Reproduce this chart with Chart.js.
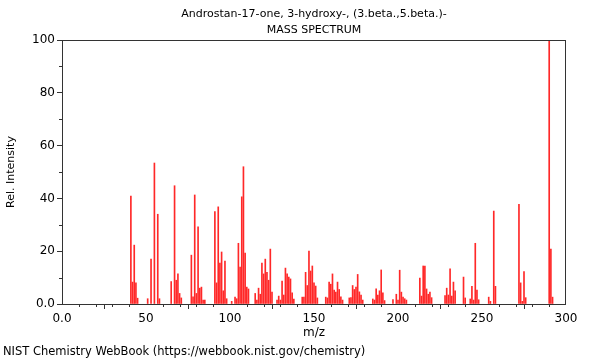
<!DOCTYPE html>
<html>
<head>
<meta charset="utf-8">
<script src="https://cdn.jsdelivr.net/npm/chart.js@4/dist/chart.umd.min.js"></script>
<style>
html,body{margin:0;padding:0;background:#fff;}
#wrap{width:600px;height:360px;position:relative;}
</style>
</head>
<body>
<div id="wrap"><canvas id="c" width="600" height="360"></canvas></div>
<script>
const titleLines = ["Androstan-17-one, 3-hydroxy-, (3.beta.,5.beta.)-", "MASS SPECTRUM"];
const xAxisTitle = "m/z";
const yAxisTitle = "Rel. Intensity";
const footer = "NIST Chemistry WebBook (https://webbook.nist.gov/chemistry)";
const xTickValues = [0, 50, 100, 150, 200, 250, 300];
const yTickValues = [0, 20, 40, 60, 80, 100];

const mz = [41,42,43,44,45,51,53,55,57,58,65,67,68,69,70,71,77,78,79,80,81,82,83,84,85,
  91,92,93,94,95,96,97,98,101,103,104,105,106,107,108,109,110,111,115,116,117,118,119,120,121,122,123,124,125,
  128,129,130,131,132,133,134,135,136,137,138,143,144,145,146,147,148,149,150,151,152,
  157,158,159,160,161,162,163,164,165,166,167,171,172,173,174,175,176,177,178,179,
  185,186,187,188,189,190,191,192,197,199,200,201,202,203,204,205,
  213,214,215,216,217,218,219,220,228,229,230,231,232,233,234,239,240,243,244,245,246,247,248,
  254,255,257,258,272,273,274,275,276,290,291,292];
const intensity = [40.9,8.3,22.3,8,2.2,2,17,53.4,34,2,8.5,44.8,9,11.4,4,2.3,18.5,2.7,41.3,4,29.2,6,6.4,1.5,1.5,
  35,8,36.8,15.5,19.7,5,16.3,2,1,2.6,2,23,14,40.6,52,19.3,6.4,5.7,4,1.5,6,3.7,15.5,11.4,17,12,9,20.8,4.5,
  1.5,3,1.5,8.7,3.4,13.6,11.4,10.2,9.5,4.2,1.9,2.6,2.6,12,7,20,12.5,14.4,8,6.8,2.3,
  2.6,2.3,8.3,7.5,11.4,5.3,4.5,8.3,5.5,2.7,1.5,2.3,2.4,7,5.5,6.4,11.2,4.6,3.4,1.5,
  1.9,1.5,5.7,3.4,5,12.9,4.2,1.3,1.7,3.7,1.5,12.8,4.5,2.6,2,1.5,
  9.8,3,14.4,14.4,5.7,3.7,4.5,2.4,3.2,6,3.4,13.3,3,8.3,5,10.2,2.3,1.9,6.7,1.5,23,5.3,1.6,
  2.6,1,35.2,6.7,37.8,8,1,12.3,2.4,100,20.8,2.6];

const points = mz.map((m, i) => ({x: m, y: intensity[i]}));
const FONT = "'DejaVu Sans', sans-serif";

const decor = {
  id: 'decor',
  afterDraw(chart) {
    const ctx = chart.ctx;
    const a = chart.chartArea;
    const xs = chart.scales.x, ys = chart.scales.y;
    ctx.save();
    ctx.strokeStyle = '#333';
    ctx.lineWidth = 1;
    ctx.strokeRect(Math.round(a.left) + 0.5, Math.round(a.top) + 0.5, Math.round(a.right - a.left) - 1, Math.round(a.bottom - a.top));
    // minor ticks
    ctx.beginPath();
    for (let v = 10; v < 300; v += 10) {
      if (v % 50 === 0) continue;
      const px = Math.round(xs.getPixelForValue(v)) + 0.5;
      ctx.moveTo(px, a.bottom);
      ctx.lineTo(px, a.bottom + 3);
    }
    for (let v = 10; v < 100; v += 20) {
      const py = Math.round(ys.getPixelForValue(v)) + 0.5;
      ctx.moveTo(a.left, py);
      ctx.lineTo(a.left - 3, py);
    }
    ctx.stroke();
    // texts
    ctx.fillStyle = '#000';
    ctx.textAlign = 'center';
    ctx.textBaseline = 'middle';
    ctx.font = "11px " + FONT;
    const cx = (a.left + a.right) / 2;
    ctx.fillText(titleLines[0], cx, 14);
    ctx.fillText(titleLines[1], cx, 30);
    ctx.font = "12px " + FONT;
    ctx.fillText(xAxisTitle, cx, 333);
    ctx.save();
    ctx.translate(11, (a.top + a.bottom) / 2);
    ctx.rotate(-Math.PI / 2);
    ctx.font = "11px " + FONT;
    ctx.fillText(yAxisTitle, 0, 0);
    ctx.restore();
    ctx.textAlign = 'left';
    ctx.font = "11.5px " + FONT;
    ctx.fillText(footer, 3, 352);
    ctx.restore();
  }
};

new Chart(document.getElementById('c'), {
  type: 'bar',
  data: {
    datasets: [{
      data: points,
      backgroundColor: 'rgb(255,40,40)',
      borderWidth: 0,
      barThickness: 1,
      grouped: false
    }]
  },
  options: {
    responsive: false,
    animation: false,
    layout: {padding: {top: 40, right: 34, left: 0, bottom: 0}},
    plugins: {legend: {display: false}, tooltip: {enabled: false}, title: {display: false}},
    scales: {
      x: {
        type: 'linear', min: 0, max: 300, offset: false,
        afterFit: s => { s.height = 56; },
        afterBuildTicks: s => { s.ticks = xTickValues.map(v => ({value: v})); },
        ticks: {
          autoSkip: false, maxRotation: 0, padding: 3, color: '#000',
          font: {family: FONT, size: 12},
          callback: v => v === 0 ? '0.0' : String(v)
        },
        grid: {display: true, drawOnChartArea: false, drawTicks: true, tickLength: 5, color: '#333'},
        border: {display: false}
      },
      y: {
        type: 'linear', min: 0, max: 100,
        afterFit: s => { s.width = 62; },
        afterBuildTicks: s => { s.ticks = yTickValues.map(v => ({value: v})); },
        ticks: {
          autoSkip: false, padding: 2, color: '#000',
          font: {family: FONT, size: 12},
          callback: v => v === 0 ? '0.0' : String(v)
        },
        grid: {display: true, drawOnChartArea: false, drawTicks: true, tickLength: 5, color: '#333'},
        border: {display: false}
      }
    }
  },
  plugins: [decor]
});
</script>
</body>
</html>
